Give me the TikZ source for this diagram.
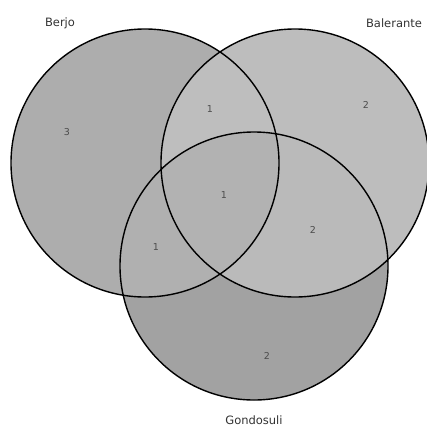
\documentclass[tikz,border=0pt]{standalone}
\usepackage{fontspec}
\setmainfont{DejaVu Sans}
\begin{document}
\begin{tikzpicture}[x=1pt,y=-1pt,
  setlabel/.style={text=black!80,font=\fontsize{11.5}{13}\selectfont,inner sep=0pt},
  countlabel/.style={text=black!70,font=\fontsize{9.5}{11}\selectfont,inner sep=0pt},
  outline/.style={draw=black,line width=1.4pt}]
\useasboundingbox (0,0) rectangle (427,426);
\def\R{134}
\coordinate (cb) at (145,163);
\coordinate (cl) at (295,163);
\coordinate (cg) at (254,266);
% base fills
\fill[fill={rgb,255:red,173;green,173;blue,173}] (cb) circle (\R);
\fill[fill={rgb,255:red,189;green,189;blue,189}] (cl) circle (\R);
\fill[fill={rgb,255:red,162;green,162;blue,162}] (cg) circle (\R);
% Berjo & Balerante
\begin{scope}
\clip (cb) circle (\R);
\fill[fill={rgb,255:red,190;green,190;blue,190}] (cl) circle (\R);
\fill[fill={rgb,255:red,176;green,176;blue,176}] (cg) circle (\R);
\end{scope}
\begin{scope}
\clip (cl) circle (\R);
\fill[fill={rgb,255:red,186;green,186;blue,186}] (cg) circle (\R);
\end{scope}
\begin{scope}
\clip (cb) circle (\R);
\clip (cl) circle (\R);
\fill[fill={rgb,255:red,178;green,178;blue,178}] (cg) circle (\R);
\end{scope}
\draw[outline] (cb) circle (\R);
\draw[outline] (cl) circle (\R);
\draw[outline] (cg) circle (\R);
% labels
\node[setlabel] (lb) at (60,23) {Berjo};
\node[setlabel] (ll) at (394,23) {Balerante};
\node[setlabel] (lg) at (254,420) {Gondosuli};
\node[countlabel] (n1) at (67,132) {3};
\node[countlabel] (n2) at (210,109) {1};
\node[countlabel] (n3) at (366,105) {2};
\node[countlabel] (n4) at (224,195) {1};
\node[countlabel] (n5) at (156,247) {1};
\node[countlabel] (n6) at (313,230) {2};
\node[countlabel] (n7) at (267,356) {2};
\end{tikzpicture}
\end{document}
